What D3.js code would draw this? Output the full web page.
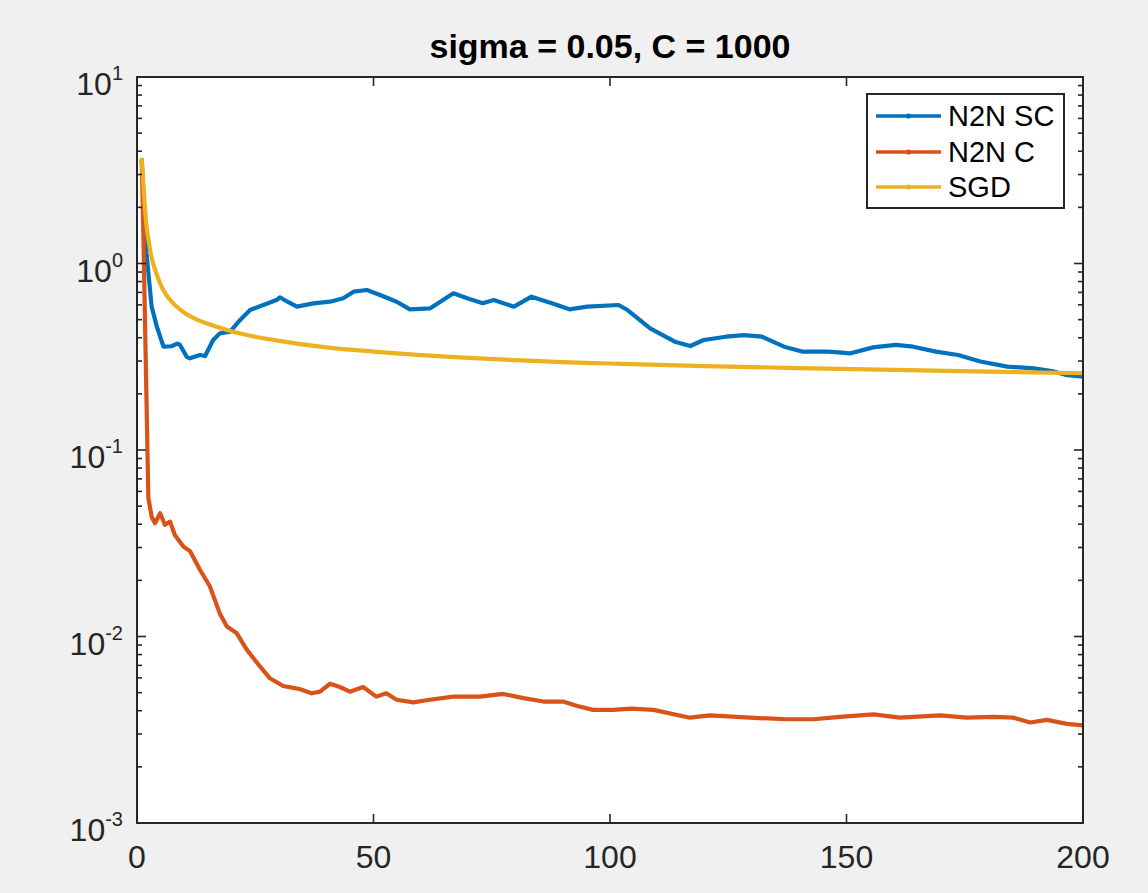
<!DOCTYPE html>
<html>
<head>
<meta charset="utf-8">
<script src="https://cdn.jsdelivr.net/npm/d3@7"></script>
<style>
  html, body { margin: 0; padding: 0; background: #ffffff; }
  svg { display: block; }
</style>
</head>
<body>
<svg id="chart" width="1148" height="893"></svg>
<script>
// ---------------- data ----------------
const chartTitle = "sigma = 0.05, C = 1000";
const seriesNames = ["N2N SC", "N2N C", "SGD"];
const xTicks = [0, 50, 100, 150, 200];
const yTickExps = [-3, -2, -1, 0, 1];

const n2nscX = [1, 1.5, 2, 3.1, 4.2, 5.6, 7.3, 8.5, 9.1, 10.5, 11.2, 13.3, 14.4, 16.1, 17.5, 19.7, 21.8, 23.9, 26.7, 29.5, 30.2, 32, 33.8, 37.3, 40.8, 43.6, 45.8, 48.6, 51.4, 54.9, 57.7, 62, 66.9, 69.8, 73.1, 75.4, 79.7, 83.4, 87.7, 91.4, 95.2, 101.8, 103.7, 108.5, 113.7, 117, 119.8, 124.5, 128.3, 132.1, 136.8, 140.6, 146.2, 150.9, 155.6, 160.4, 164.1, 168.9, 173.6, 178.3, 184, 189.6, 193.4, 196.3, 200];
const n2nscY = [3.6, 2.0, 1.14, 0.587, 0.458, 0.358, 0.36, 0.372, 0.366, 0.316, 0.31, 0.323, 0.319, 0.389, 0.422, 0.431, 0.498, 0.563, 0.599, 0.637, 0.659, 0.62, 0.587, 0.611, 0.624, 0.651, 0.706, 0.721, 0.678, 0.624, 0.568, 0.575, 0.692, 0.651, 0.612, 0.637, 0.587, 0.664, 0.612, 0.568, 0.587, 0.599, 0.563, 0.449, 0.381, 0.361, 0.389, 0.405, 0.413, 0.405, 0.358, 0.337, 0.337, 0.33, 0.355, 0.366, 0.358, 0.337, 0.323, 0.298, 0.28, 0.274, 0.265, 0.253, 0.247];

const n2ncX = [1, 1.3, 2.0, 2.4, 3.1, 3.8, 4.9, 5.9, 7, 8, 9.8, 11.2, 13.3, 15.4, 17.5, 19, 21.1, 23.2, 26, 28.1, 30.9, 34.5, 36.9, 38.7, 40.8, 42.9, 45, 47.8, 50.6, 52.7, 54.9, 58.4, 61.9, 66.9, 72.5, 77.4, 81.7, 85.9, 90.1, 92.9, 96.4, 100.7, 104.5, 109.2, 116.9, 121.1, 129.6, 137.3, 143, 148.6, 155.7, 161.3, 169.8, 175.5, 181.1, 185.3, 188.8, 192.4, 196.6, 200];
const n2ncY = [3.6, 1.65, 0.19, 0.0553, 0.0439, 0.0405, 0.0458, 0.0397, 0.0413, 0.035, 0.0304, 0.0287, 0.0228, 0.0186, 0.0133, 0.0113, 0.0104, 0.0085, 0.00691, 0.00597, 0.00543, 0.00522, 0.00496, 0.00506, 0.00558, 0.00536, 0.00506, 0.00536, 0.00476, 0.00496, 0.00458, 0.00443, 0.00458, 0.00476, 0.00476, 0.00492, 0.00467, 0.00448, 0.00448, 0.00425, 0.00404, 0.00404, 0.0041, 0.00404, 0.00367, 0.00378, 0.00367, 0.0036, 0.0036, 0.00371, 0.00382, 0.00367, 0.00378, 0.00367, 0.00371, 0.00367, 0.00346, 0.00357, 0.0034, 0.00334];

const sgdX = [1, 1.5, 2, 2.5, 3, 4, 5, 6, 8, 10, 12, 15, 19, 25, 30, 40, 50, 60, 70, 80, 90, 100, 120, 140, 160, 180, 200];
const sgdY = [3.6, 2.3, 1.6, 1.3, 1.1, 0.9, 0.77, 0.69, 0.6, 0.545, 0.51, 0.475, 0.44, 0.405, 0.385, 0.355, 0.337, 0.323, 0.312, 0.303, 0.296, 0.291, 0.282, 0.275, 0.269, 0.263, 0.258];

const colors = ["#0072BD", "#D95319", "#EDB120"];

// ---------------- layout ----------------
const svg = d3.select("#chart");
const W = 1148, H = 893;
const L = 137, R = 1083, T = 77, B = 823;
const axisColor = "#262626";
const font = "'Liberation Sans', Arial, Helvetica, sans-serif";

svg.append("rect").attr("x", 0).attr("y", 0).attr("width", W).attr("height", H).attr("fill", "#F0F0F0");

const x = d3.scaleLinear().domain([0, 200]).range([L, R]);
const y = d3.scaleLog().domain([1e-3, 1e1]).range([B, T]);

svg.append("rect").attr("x", L).attr("y", T).attr("width", R - L).attr("height", B - T).attr("fill", "#ffffff");

svg.append("clipPath").attr("id", "clip").append("rect")
  .attr("x", L).attr("y", T).attr("width", R - L).attr("height", B - T);

const seriesData = [
  n2nscX.map((v, i) => [v, n2nscY[i]]),
  n2ncX.map((v, i) => [v, n2ncY[i]]),
  sgdX.map((v, i) => [v, sgdY[i]])
];
const curves = [d3.curveLinear, d3.curveLinear, d3.curveMonotoneX];

const g = svg.append("g").attr("clip-path", "url(#clip)");
seriesData.forEach((d, i) => {
  const line = d3.line().x(p => x(p[0])).y(p => y(p[1])).curve(curves[i]);
  g.append("path").datum(d)
    .attr("d", line)
    .attr("fill", "none")
    .attr("stroke", colors[i])
    .attr("stroke-width", 4.2)
    .attr("stroke-linejoin", "round")
    .attr("stroke-linecap", "round");
});

// ticks
const majorLen = 9, minorLen = 5;
const tickG = svg.append("g").attr("stroke", axisColor).attr("stroke-width", 1.6);
xTicks.forEach(t => {
  tickG.append("line").attr("x1", x(t)).attr("x2", x(t)).attr("y1", B).attr("y2", B - majorLen);
  tickG.append("line").attr("x1", x(t)).attr("x2", x(t)).attr("y1", T).attr("y2", T + majorLen);
});
yTickExps.forEach(e => {
  const v = Math.pow(10, e);
  tickG.append("line").attr("x1", L).attr("x2", L + majorLen).attr("y1", y(v)).attr("y2", y(v));
  tickG.append("line").attr("x1", R).attr("x2", R - majorLen).attr("y1", y(v)).attr("y2", y(v));
  if (e < 1) {
    for (let m = 2; m <= 9; m++) {
      const mv = m * v;
      tickG.append("line").attr("x1", L).attr("x2", L + minorLen).attr("y1", y(mv)).attr("y2", y(mv));
      tickG.append("line").attr("x1", R).attr("x2", R - minorLen).attr("y1", y(mv)).attr("y2", y(mv));
    }
  }
});

svg.append("rect").attr("x", L).attr("y", T).attr("width", R - L).attr("height", B - T)
  .attr("fill", "none").attr("stroke", axisColor).attr("stroke-width", 2);

xTicks.forEach(t => {
  svg.append("text").attr("x", x(t)).attr("y", B + 45)
    .attr("text-anchor", "middle")
    .attr("font-family", font).attr("font-size", 32).attr("fill", axisColor)
    .text(t);
});

yTickExps.forEach(e => {
  const yy = y(Math.pow(10, e));
  const t = svg.append("text").attr("x", 123).attr("y", yy + 18)
    .attr("text-anchor", "end")
    .attr("font-family", font).attr("fill", axisColor);
  t.append("tspan").attr("font-size", 32).text("10");
  t.append("tspan").attr("font-size", 20).attr("dy", -15).text(String(e));
});

svg.append("text").attr("x", (L + R) / 2).attr("y", 58)
  .attr("text-anchor", "middle")
  .attr("font-family", font).attr("font-size", 34).attr("font-weight", "bold")
  .attr("fill", "#000000")
  .text(chartTitle);

const lg = svg.append("g");
lg.append("rect").attr("x", 867).attr("y", 94).attr("width", 1064 - 867).attr("height", 208 - 94)
  .attr("fill", "#ffffff").attr("stroke", axisColor).attr("stroke-width", 2);
const rowY = [116, 152, 187];
seriesNames.forEach((n, i) => {
  lg.append("line").attr("x1", 876).attr("x2", 941).attr("y1", rowY[i]).attr("y2", rowY[i])
    .attr("stroke", colors[i]).attr("stroke-width", 3.6);
  lg.append("circle").attr("cx", 908.5).attr("cy", rowY[i]).attr("r", 2.6).attr("fill", colors[i]);
  lg.append("text").attr("x", 948).attr("y", rowY[i] + 10)
    .attr("font-family", font).attr("font-size", 29).attr("fill", "#000000")
    .text(n);
});
</script>
</body>
</html>
